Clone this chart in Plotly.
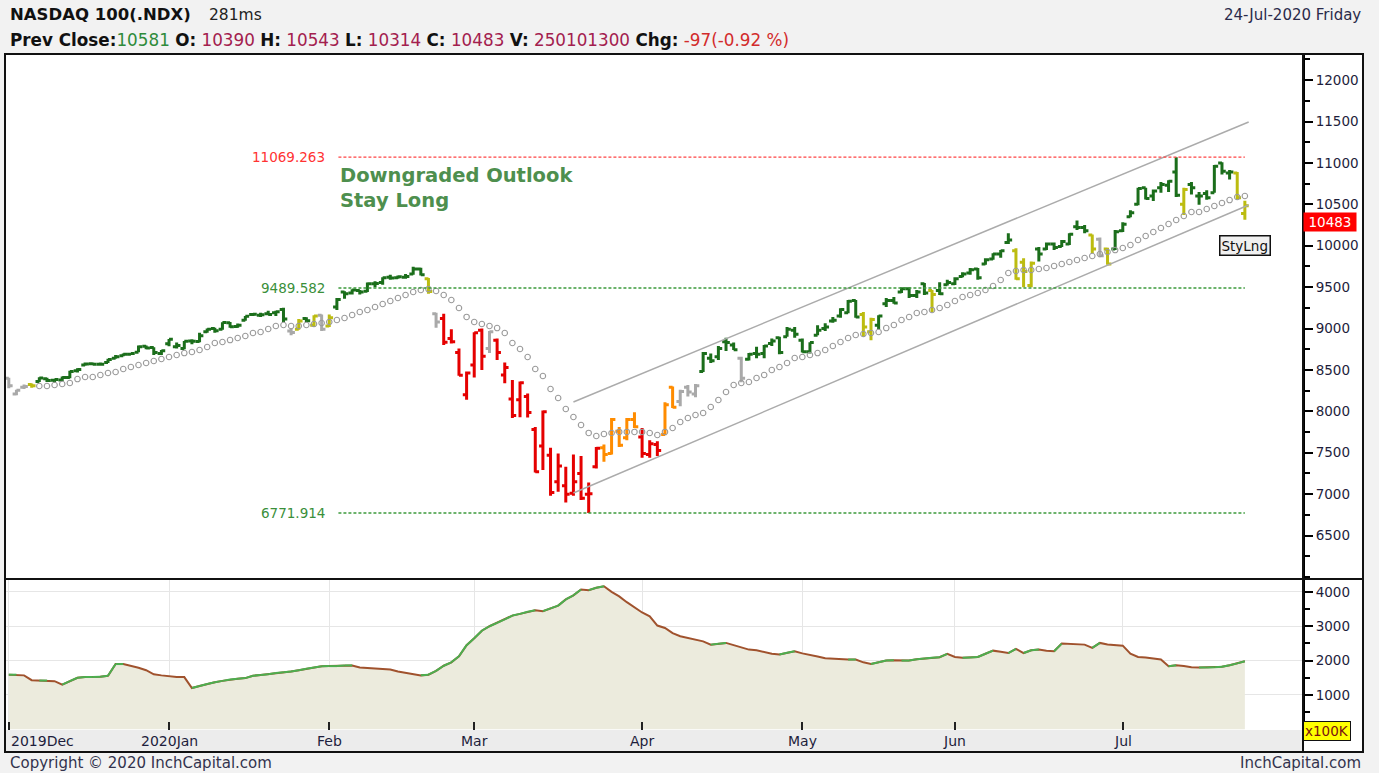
import plotly.graph_objects as go
import pandas as pd

# ---------------- data ----------------
holidays = ["2019-12-25", "2020-01-01", "2020-01-20", "2020-02-17",
            "2020-04-10", "2020-05-25", "2020-07-03"]
dates = [d for d in pd.bdate_range("2019-12-02", "2020-07-24")
         if d.strftime("%Y-%m-%d") not in holidays]

month_labels = ["2019Dec", "2020Jan", "Feb", "Mar", "Apr", "May", "Jun", "Jul"]

opens = [
    8400, 8210, 8290, 8325, 8360, 8395, 8375, 8380, 8410, 8490, 8560, 8575, 8570, 8590, 8640, 8670, 8690, 8715, 8785, 8770, 8700,
    8815, 8780, 8760, 8850, 8845, 8960, 9000, 8990, 9070, 9025, 9100, 9170, 9160, 9180, 9190, 9230, 8970, 8990, 9120, 9040, 9160,
    9030, 9260, 9440, 9430, 9460, 9450, 9540, 9555, 9620, 9615, 9620, 9660, 9720, 9600, 9180, 9120, 8880, 8710, 8200,
    8560, 8980, 8760, 8860, 8440, 8150, 8140, 8180, 7780, 7580, 7470, 7150, 7100, 7010, 7250, 7000, 7330, 7560, 7490, 7760, 7680, 7900,
    7690, 7480, 7600, 7720, 8290, 8120, 8290, 8210, 8480, 8640, 8660, 8840, 8800, 8640, 8630, 8700, 8700, 8820, 8890, 8900, 8980,
    8860, 8720, 8920, 9000, 9090, 9150, 9190, 9340, 9170, 8960, 9040, 9300, 9340, 9440, 9480, 9400, 9540, 9460, 9460, 9530,
    9540, 9630, 9670, 9720, 9780, 9840, 9900, 10040, 9940, 9800, 9520, 9960, 9960, 10020, 9990, 10020, 10230, 10220, 10130, 10080, 9960, 9960,
    10180, 10350, 10500, 10700, 10600, 10700, 10730, 10890, 10500, 10740, 10600, 10630, 10640, 11000, 10880, 10880, 10390,
]
highs = [
    8405, 8262, 8325, 8335, 8412, 8405, 8395, 8420, 8490, 8520, 8590, 8590, 8590, 8635, 8680, 8700, 8705, 8795, 8795, 8775, 8740,
    8875, 8830, 8850, 8870, 8950, 9000, 9010, 9075, 9080, 9060, 9150, 9180, 9190, 9215, 9215, 9250, 9000, 9115, 9135, 9160, 9170,
    9170, 9370, 9450, 9475, 9465, 9555, 9570, 9620, 9650, 9640, 9660, 9745, 9735, 9610, 9190, 9180, 8990, 8760, 8480,
    8955, 9000, 8970, 8880, 8590, 8380, 8360, 8215, 7810, 8010, 7560, 7490, 7330, 7480, 7460, 7140, 7570, 7600, 7920, 7810, 7920, 7990,
    7800, 7650, 7640, 8110, 8300, 8260, 8318, 8330, 8717, 8700, 8790, 8890, 8830, 8660, 8705, 8780, 8800, 8880, 8900, 9020, 9020,
    8880, 8835, 9040, 9065, 9140, 9245, 9345, 9345, 9200, 9130, 9160, 9370, 9380, 9500, 9500, 9465, 9550, 9465, 9560, 9590,
    9620, 9680, 9730, 9730, 9850, 9910, 9950, 10150, 9970, 9850, 9810, 9985, 10040, 10040, 10070, 10150, 10305, 10250, 10135, 10100, 9975, 10190,
    10285, 10430, 10700, 10700, 10680, 10770, 10790, 11069.263, 10700, 10770, 10650, 10670, 10975, 11010, 10915, 10890, 10543,
]
lows = [
    8280, 8195, 8270, 8285, 8355, 8355, 8345, 8365, 8400, 8470, 8550, 8560, 8555, 8585, 8635, 8665, 8680, 8715, 8750, 8680, 8680,
    8785, 8760, 8750, 8810, 8835, 8950, 8950, 8985, 9010, 9010, 9095, 9150, 9140, 9160, 9150, 9080, 8920, 8985, 9080, 9020, 8970,
    9020, 9225, 9360, 9410, 9410, 9440, 9500, 9530, 9590, 9600, 9600, 9650, 9640, 9420, 9010, 8800, 8820, 8430, 8140,
    8410, 8500, 8705, 8620, 8340, 7920, 7930, 7925, 7260, 7290, 6980, 7030, 6900, 6980, 6930, 6771.914, 7310, 7390, 7480, 7570, 7650, 7800,
    7440, 7440, 7460, 7710, 8040, 8060, 8180, 8170, 8475, 8585, 8620, 8730, 8740, 8350, 8615, 8640, 8640, 8790, 8690, 8900, 8890,
    8710, 8700, 8920, 8970, 9070, 9130, 9185, 9130, 8900, 8860, 8990, 9260, 9300, 9430, 9370, 9370, 9405, 9200, 9405, 9520,
    9525, 9620, 9650, 9590, 9770, 9830, 9855, 10020, 9590, 9500, 9500, 9810, 9950, 9950, 9985, 10010, 10190, 10150, 9910, 9860, 9770, 9948,
    10165, 10345, 10490, 10560, 10540, 10640, 10650, 10590, 10370, 10620, 10495, 10555, 10640, 10860, 10800, 10560, 10314,
]
closes = [
    8310, 8254, 8300, 8310, 8403, 8371, 8384, 8410, 8480, 8505, 8572, 8568, 8570, 8625, 8660, 8690, 8700, 8780, 8765, 8710, 8733,
    8872, 8795, 8848, 8846, 8912, 8991, 8973, 9074, 9022, 9040, 9149, 9174, 9167, 9169, 9204, 9115, 8952, 9090, 9095, 9150, 8991,
    9130, 9350, 9420, 9465, 9440, 9540, 9545, 9615, 9610, 9625, 9630, 9720, 9650, 9446, 9080, 8835, 8840, 8437, 8462,
    8950, 8665, 8960, 8710, 8530, 7950, 8344, 7985, 7270, 7995, 7020, 7340, 7000, 7150, 6950, 7006, 7553, 7480, 7900, 7590, 7900, 7813,
    7490, 7610, 7528, 8080, 8050, 8240, 8233, 8310, 8700, 8610, 8760, 8832, 8745, 8400, 8690, 8690, 8790, 8850, 8710, 8990, 8930,
    8720, 8830, 8980, 9020, 9100, 9230, 9330, 9140, 9020, 9110, 9150, 9340, 9310, 9480, 9400, 9440, 9430, 9410, 9420, 9555,
    9600, 9660, 9710, 9615, 9830, 9900, 9940, 10070, 9600, 9690, 9790, 9900, 10020, 9980, 10050, 10140, 10220, 10180, 9960, 9880, 9780, 10170,
    10260, 10400, 10690, 10570, 10660, 10740, 10780, 10610, 10680, 10700, 10600, 10580, 10960, 10900, 10890, 10581, 10483,
]
# trading signal per bar: L=long, W=weak, S=short, R=rebound, N=neutral
signal = list(
    "NNNWLLLLLLLLLLLLLLLLL"            # Dec
    "LLLLLLLLLLLLLLLLNWLWN"            # Jan
    "WLLLLLLLLLLLLWNSSSS"              # Feb
    "SSNSSSSSSSSSSSSSSRRRRR"           # Mar
    "SSSRRNNNLLLLLNLLLLLLL"            # Apr
    "LLLLLLLLWWLLLLLLLWLL"             # May
    "LLLLLLLLWWWLLLLLLLWNWL"           # Jun
    "LLLLLLLLWLLLLLLWW"                # Jul
)
# trailing stop / moving average dots
trail = [
    None, None, None, None, 8306, 8306, 8318, 8330, 8342, 8390, 8415, 8415, 8439, 8463, 8475, 8511, 8536, 8560, 8584, 8608, 8632,
    8656, 8680, 8704, 8717, 8741, 8777, 8825, 8837, 8861, 8886, 8910, 8946, 8958, 8994, 9031, 9043, 9031, 9031, 9043, 9055, 9067,
    9079, 9103, 9127, 9164, 9200, 9224, 9260, 9296, 9333, 9369, 9405, 9441, 9465, 9477, 9453, 9405, 9345, 9248, 9140,
    9079, 9055, 9031, 9006, 8946, 8825, 8753, 8656, 8511, 8427, 8270, 8161, 8028, 7932, 7835, 7739, 7702, 7726, 7738, 7751, 7751, 7751,
    7751, 7738, 7714, 7751, 7799, 7871, 7920, 7956, 7980, 8052, 8137, 8234, 8318, 8342, 8354, 8403, 8439, 8499, 8536, 8584, 8644,
    8656, 8680, 8704, 8741, 8789, 8837, 8886, 8922, 8934, 8946, 8958, 9006, 9043, 9103, 9139, 9188, 9200, 9224, 9248, 9284,
    9333, 9381, 9405, 9429, 9465, 9514, 9586, 9671, 9695, 9707, 9707, 9719, 9731, 9755, 9780, 9804, 9828, 9852, 9876, 9900, 9924, 9948,
    9973, 10009, 10069, 10118, 10166, 10214, 10263, 10311, 10359, 10408, 10408, 10444, 10480, 10516, 10552, 10589, 10601,
]
# volume moving average, in units of 100K
volume = [
    1590, 1590, 1570, 1430, 1420, 1420, 1400, 1300, 1400, 1500, 1520, 1525, 1530, 1560, 1900, 1900, 1850, 1790, 1720, 1600, 1570,
    1540, 1525, 1520, 1200, 1260, 1320, 1370, 1410, 1450, 1475, 1490, 1560, 1580, 1600, 1640, 1660, 1680, 1720, 1760, 1800, 1835,
    1840, 1840, 1860, 1860, 1800, 1790, 1780, 1770, 1740, 1680, 1640, 1600, 1570, 1590, 1700, 1850, 1950, 2125, 2450,
    2650, 2870, 3000, 3100, 3200, 3310, 3360, 3420, 3465, 3440, 3520, 3600, 3780, 3900, 4070, 4050, 4120, 4165, 4000, 3870, 3700, 3560,
    3400, 3290, 3020, 2950, 2800, 2710, 2660, 2600, 2560, 2465, 2490, 2515, 2450, 2380, 2320, 2300, 2240, 2200, 2175, 2230, 2270,
    2210, 2175, 2120, 2070, 2050, 2040, 2030, 2030, 1950, 1900, 1950, 2000, 2010, 2000, 2000, 2040, 2060, 2080, 2100, 2195,
    2105, 2080, 2090, 2105, 2200, 2290, 2260, 2220, 2340, 2220, 2300, 2320, 2290, 2270, 2495, 2480, 2470, 2465, 2370, 2515, 2470, 2450,
    2435, 2200, 2105, 2090, 2060, 2030, 1835, 1865, 1840, 1805, 1800, 1800, 1805, 1820, 1865, 1920, 1980,
]
level_values = [11069.263, 9489.582, 6771.914]
level_from, level_to = 43.2, 162.0
channel_x = [74.0, 162.5]
channel_upper = [8113, 11494]
channel_lower = [7014, 10492]
last_close = 10483
price_ticks = list(range(6500, 12001, 500))
volume_ticks = [1000, 2000, 3000, 4000]

n = len(dates)
for arr in (opens, highs, lows, closes, signal, trail, volume):
    assert len(arr) == n, len(arr)

# ---------------- styles ----------------
signal_colors = {"L": "#1b6e1b", "W": "#bcbc10", "S": "#e50000", "R": "#ff8c00", "N": "#a9a9a9"}
FONT = "DejaVu Sans"
W, H = 1379, 773
ML, MR, MT, MB = 5, 76, 54, 43
pw, ph = W - ML - MR, H - MT - MB


def px_x(p):
    return (p - ML) / pw


def px_y(p):
    return (H - MB - p) / ph


x_idx = list(range(n))
month_pos = [i for i in range(n) if i == 0 or dates[i].month != dates[i - 1].month]

fig = go.Figure()

# trailing dots
fig.add_trace(go.Scatter(x=x_idx, y=trail, mode="markers", hoverinfo="skip",
                         marker=dict(symbol="circle-open", size=5.5, color="#9a9a9a", line=dict(width=1.1)),
                         xaxis="x", yaxis="y"))
# channel
for ch in (channel_upper, channel_lower):
    fig.add_trace(go.Scatter(x=channel_x, y=ch, mode="lines", hoverinfo="skip",
                             line=dict(color="#ababab", width=1.5), xaxis="x", yaxis="y"))
# levels
level_colors = ["#ff4444", "#3c9a3c", "#3c9a3c"]
for v, c in zip(level_values, level_colors):
    fig.add_trace(go.Scatter(x=[level_from, level_to], y=[v, v], mode="lines", hoverinfo="skip",
                             line=dict(color=c, width=1.3, dash="3px,2px"), xaxis="x", yaxis="y"))
# OHLC bars by signal
for code, col in signal_colors.items():
    ids = [i for i in range(n) if signal[i] == code]
    fig.add_trace(go.Ohlc(x=ids, open=[opens[i] for i in ids], high=[highs[i] for i in ids],
                          low=[lows[i] for i in ids], close=[closes[i] for i in ids],
                          increasing=dict(line=dict(color=col, width=3)),
                          decreasing=dict(line=dict(color=col, width=3)),
                          tickwidth=0.5, hoverinfo="skip", xaxis="x", yaxis="y"))

# volume panel
fig.add_trace(go.Scatter(x=x_idx, y=volume, mode="lines", fill="tozeroy", fillcolor="#ecebdd",
                         line=dict(color="#a0522d", width=2), hoverinfo="skip", xaxis="x2", yaxis="y2"))
gx, gy = [], []
for i in range(1, n):
    if volume[i] >= volume[i - 1]:
        gx += [i - 1, i, None]
        gy += [volume[i - 1], volume[i], None]
fig.add_trace(go.Scatter(x=gx, y=gy, mode="lines", line=dict(color="#4caf50", width=2),
                         hoverinfo="skip", xaxis="x2", yaxis="y2"))

xr = [(ML - 8.8) / 7.63, (W - MR - 8.8) / 7.63]
main_bottom = px_y(578)
vol_top = px_y(580)

axis_font = dict(family=FONT, size=13.5, color="#1e1e3c")
fig.update_layout(
    width=W, height=H, margin=dict(l=ML, r=MR, t=MT, b=MB),
    paper_bgcolor="#f2f2f2", plot_bgcolor="white", showlegend=False,
    xaxis=dict(domain=[0, 1], range=xr, anchor="y", showticklabels=False, showgrid=False,
               zeroline=False, rangeslider=dict(visible=False), fixedrange=True),
    yaxis=dict(domain=[main_bottom, 1], range=[5987, 12316], side="right", anchor="x",
               tickvals=price_ticks, ticktext=[str(v) for v in price_ticks],
               ticks="outside", ticklen=8, tickwidth=1.5,
               tickcolor="black", showline=True, linecolor="black", linewidth=2, showgrid=False,
               zeroline=False, tickfont=axis_font,
               minor=dict(ticks="outside", ticklen=5, tickwidth=1.5, tickcolor="black", dtick=250,
                          tick0=0, showgrid=False)),
    xaxis2=dict(domain=[0, 1], range=xr, anchor="y2", matches="x", showticklabels=False,
                tickvals=month_pos, ticks="inside", ticklen=8, tickwidth=1.5, tickcolor="#222",
                showgrid=True, gridcolor="#e6e6e6", gridwidth=1, zeroline=False,
                rangeslider=dict(visible=False)),
    yaxis2=dict(domain=[0, vol_top], range=[-20, 4346], side="right", anchor="x2",
                tickvals=volume_ticks, ticktext=[str(v) for v in volume_ticks],
                ticks="outside", ticklen=8, tickwidth=1.5,
                tickcolor="black", showline=True, linecolor="black", linewidth=2,
                showgrid=True, gridcolor="#e6e6e6", zeroline=False, tickfont=axis_font,
                minor=dict(ticks="outside", ticklen=5, tickwidth=1.5, tickcolor="black", dtick=500,
                           tick0=0, showgrid=False)),
)

shapes = [
    dict(type="rect", xref="paper", yref="paper", x0=0, x1=px_x(1363), y0=px_y(752), y1=1,
         fillcolor="white", line=dict(width=0), layer="below"),
    dict(type="rect", xref="paper", yref="paper", x0=0, x1=1, y0=px_y(752), y1=0,
         fillcolor="#ececec", line=dict(width=0), layer="below"),
    dict(type="rect", xref="paper", yref="paper", x0=0, x1=px_x(1363), y0=px_y(752), y1=1,
         fillcolor="rgba(0,0,0,0)", line=dict(color="#111", width=2), layer="above"),
    dict(type="line", xref="paper", yref="paper", x0=0, x1=px_x(1363), y0=px_y(579), y1=px_y(579),
         line=dict(color="#111", width=2), layer="above"),
    dict(type="line", xref="paper", yref="paper", x0=1, x1=1, y0=px_y(752), y1=1,
         line=dict(color="#111", width=2), layer="above"),
]
fig.update_layout(shapes=shapes)

ann = []
# x tick labels
for pos, lab in zip(month_pos, month_labels):
    ann.append(dict(x=pos, xref="x2", y=px_y(741), yref="paper", text=lab, showarrow=False,
                    xanchor="left" if pos == 0 else "center", yanchor="middle",
                    font=dict(family=FONT, size=14, color="#1e1e3c")))
# level labels
for v, c in zip(level_values, ["#ff3333", "#3a8f3a", "#3a8f3a"]):
    ann.append(dict(x=level_from - 1.5, xref="x", y=v, yref="y", text=f"{v:.3f}", showarrow=False,
                    xanchor="right", yanchor="middle", font=dict(family=FONT, size=13.5, color=c)))
# notes
ann.append(dict(x=level_from, xref="x", y=10854, yref="y", text="<b>Downgraded Outlook</b>",
                showarrow=False, xanchor="left", yanchor="middle",
                font=dict(family=FONT, size=19.5, color="#4e8f4e")))
ann.append(dict(x=level_from, xref="x", y=10552, yref="y", text="<b>Stay Long</b>",
                showarrow=False, xanchor="left", yanchor="middle",
                font=dict(family=FONT, size=19.5, color="#4e8f4e")))
ann.append(dict(x=n - 1, xref="x", y=10009, yref="y", text="StyLng", showarrow=False,
                xanchor="center", yanchor="middle", bgcolor="#f0f0f0", bordercolor="#111",
                borderwidth=1.5, borderpad=1, font=dict(family=FONT, size=13.5, color="#111")))
# last price tag (nudged just below the 10500 tick label)
ann.append(dict(x=1.0, xref="paper", y=last_close, yref="y", text=f"{last_close}", showarrow=False,
                xanchor="left", yanchor="top", yshift=-6, bgcolor="#ff0000", width=50, height=16,
                font=dict(family=FONT, size=13.5, color="white")))
ann.append(dict(x=1.0, xref="paper", y=px_y(731), yref="paper", text="x100K", showarrow=False,
                xanchor="left", yanchor="middle", bgcolor="#ffff00", bordercolor="#111", borderwidth=1,
                borderpad=1, font=dict(family=FONT, size=13.5, color="#7a1010")))
# header & footer
ann.append(dict(x=px_x(8), xref="paper", y=px_y(15), yref="paper", text="<b>NASDAQ 100(.NDX)</b>",
                showarrow=False, xanchor="left", yanchor="middle",
                font=dict(family=FONT, size=16.5, color="#111")))
ann.append(dict(x=px_x(207), xref="paper", y=px_y(15), yref="paper", text="281ms",
                showarrow=False, xanchor="left", yanchor="middle",
                font=dict(family=FONT, size=15.5, color="#222")))
vc = "#a3204e"
hdr = ("<b>Prev Close:</b><span style='color:#2e8b3a'>10581</span> "
       f"<b>O:</b> <span style='color:{vc}'>10390</span> "
       f"<b>H:</b> <span style='color:{vc}'>10543</span> "
       f"<b>L:</b> <span style='color:{vc}'>10314</span> "
       f"<b>C:</b> <span style='color:{vc}'>10483</span> "
       f"<b>V:</b> <span style='color:{vc}'>250101300</span> "
       "<b>Chg:</b> <span style='color:#d22c2c'>-97(-0.92 %)</span>")
ann.append(dict(x=px_x(8), xref="paper", y=px_y(40), yref="paper", text=hdr, showarrow=False,
                xanchor="left", yanchor="middle", font=dict(family=FONT, size=16.8, color="#111")))
ann.append(dict(x=px_x(1363), xref="paper", y=px_y(15), yref="paper", text="24-Jul-2020 Friday",
                showarrow=False, xanchor="right", yanchor="middle",
                font=dict(family=FONT, size=15, color="#2a2a4a")))
ann.append(dict(x=px_x(8), xref="paper", y=px_y(763), yref="paper", text="Copyright © 2020 InchCapital.com",
                showarrow=False, xanchor="left", yanchor="middle",
                font=dict(family=FONT, size=15, color="#33334d")))
ann.append(dict(x=px_x(1363), xref="paper", y=px_y(763), yref="paper", text="InchCapital.com",
                showarrow=False, xanchor="right", yanchor="middle",
                font=dict(family=FONT, size=15, color="#33334d")))
fig.update_layout(annotations=ann)

fig.write_html("out.html")
